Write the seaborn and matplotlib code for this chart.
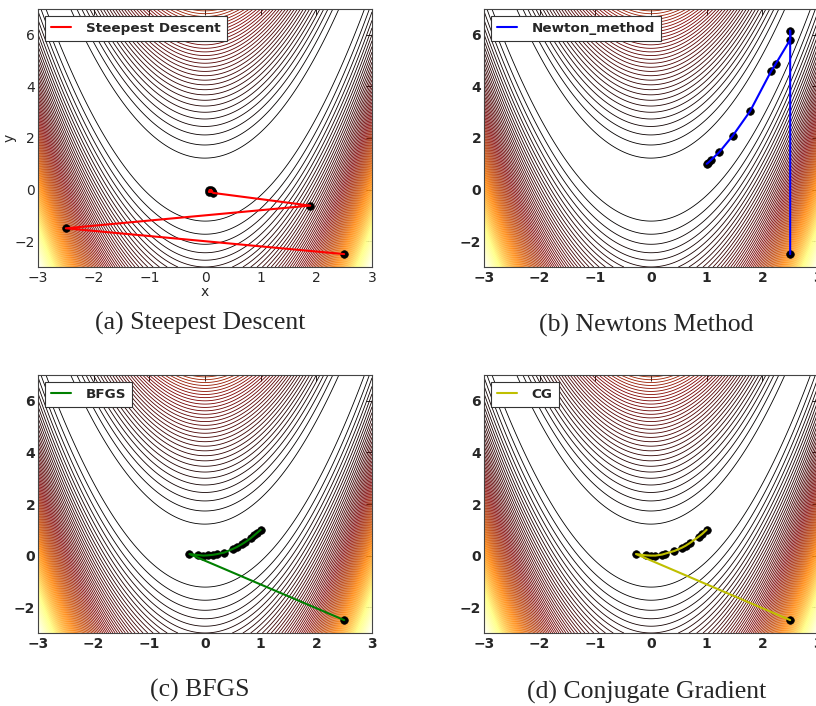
import numpy as np
import pandas as pd
import seaborn as sns
import matplotlib
matplotlib.use("Agg")
import matplotlib.pyplot as plt

# ------------------------------------------------
# data: optimisation paths on the Rosenbrock function
# ------------------------------------------------
sd_x = [2.5, -2.5, 1.89, 0.15, 0.08, 0.13, 0.07, 0.11, 0.09]
sd_y = [-2.5, -1.5, -0.62, -0.13, -0.02, -0.06, -0.09, -0.01, -0.05]

newton_x = [2.5, 2.5, 2.5, 2.24, 2.16, 1.78, 1.47, 1.23, 1.08, 1.02, 1.0]
newton_y = [-2.5, 6.16, 5.81, 4.87, 4.6, 3.04, 2.09, 1.46, 1.15, 1.03, 1.0]

bfgs_x = [2.5, -0.28, -0.12, -0.03, 0.05, 0.14, 0.22, 0.35, 0.50, 0.57, 0.66, 0.72, 0.82, 0.88, 0.94, 1.0]
bfgs_y = [-2.5, 0.06, 0.02, 0.0, 0.01, 0.03, 0.06, 0.12, 0.26, 0.33, 0.44, 0.52, 0.67, 0.78, 0.89, 1.0]

cg_x = [2.5, -0.27, -0.09, 0.0, 0.08, 0.2, 0.26, 0.42, 0.55, 0.62, 0.70, 0.86, 0.92, 1.0]
cg_y = [-2.5, 0.06, 0.01, 0.0, 0.0, 0.04, 0.08, 0.18, 0.30, 0.38, 0.49, 0.74, 0.84, 1.0]

labels = ['Steepest Descent', 'Newton_method', 'BFGS', 'CG']
captions = ['(a) Steepest Descent', '(b) Newtons Method', '(c) BFGS', '(d) Conjugate Gradient']
line_colors = ['r', 'b', 'g', 'y']
x_ticks = [-3, -2, -1, 0, 1, 2, 3]
y_ticks = [-2, 0, 2, 4, 6]
LEVEL_STEP = 150

paths = [(sd_x, sd_y), (newton_x, newton_y), (bfgs_x, bfgs_y), (cg_x, cg_y)]

# ------------------------------------------------
# contour field
# ------------------------------------------------
gx = np.linspace(-3, 3, 600)
gy = np.linspace(-3, 7, 1000)
X, Y = np.meshgrid(gx, gy)
Z = (1 - X) ** 2 + 100 * (Y - X ** 2) ** 2
levels = np.arange(LEVEL_STEP, Z.max(), LEVEL_STEP)

sns.set_style("white")
plt.rcParams['xtick.direction'] = 'in'
plt.rcParams['ytick.direction'] = 'in'
plt.rcParams['xtick.top'] = True
plt.rcParams['ytick.right'] = True

fig = plt.figure(figsize=(8.16, 7.06), dpi=100)

# axes rectangles in figure pixels (left, top)
W, H = 816, 706
ax_pos = [(38, 9), (484, 9), (38, 375), (484, 375)]
cap_pos = [(200, 323), (646, 325), (200, 690), (647, 692)]

for i, (px, py) in enumerate(ax_pos):
    ax = fig.add_axes([px / W, 1 - (py + 258) / H, 334 / W, 258 / H])
    ax.contour(X, Y, Z, levels=levels, cmap='afmhot', linewidths=0.6, zorder=1)

    df = pd.DataFrame({'x': paths[i][0], 'y': paths[i][1]})
    sns.scatterplot(data=df, x='x', y='y', color='k', s=30, edgecolor='k',
                    linewidth=0.5, legend=False, ax=ax, zorder=2)
    sns.lineplot(data=df, x='x', y='y', sort=False, estimator=None,
                 color=line_colors[i], lw=1.5, label=labels[i], ax=ax, zorder=3)

    ax.set_xlim(-3, 3)
    ax.set_ylim(-3, 7)
    ax.set_xticks(x_ticks)
    ax.set_yticks(y_ticks)
    ax.tick_params(labelsize=10, length=4, width=0.7, pad=3)
    ax.tick_params(axis='y', pad=2)
    for s in ax.spines.values():
        s.set_color('#444444')
        s.set_linewidth(0.8)

    if i == 0:
        ax.set_xlabel('x', fontsize=10)
        ax.set_ylabel('y', fontsize=10)
        ax.xaxis.set_label_coords(0.5, -0.07)
        ax.yaxis.set_label_coords(-0.063, 0.5)
    else:
        ax.set_xlabel('')
        ax.set_ylabel('')
        for t in ax.get_xticklabels() + ax.get_yticklabels():
            t.set_fontweight('bold')

    leg = ax.legend(loc='upper left', prop={'weight': 'bold', 'size': 9.7},
                    handlelength=1.5, handletextpad=1.1, borderpad=0.45,
                    borderaxespad=0.5, fancybox=False, framealpha=1)
    leg.get_frame().set_edgecolor('#333333')
    leg.get_frame().set_linewidth(0.8)

    cx, cy = cap_pos[i]
    fig.text(cx / W, 1 - cy / H, captions[i], ha='center', va='center',
             family='Liberation Serif', fontsize=18.5)

fig.savefig('out.png', dpi=100)
